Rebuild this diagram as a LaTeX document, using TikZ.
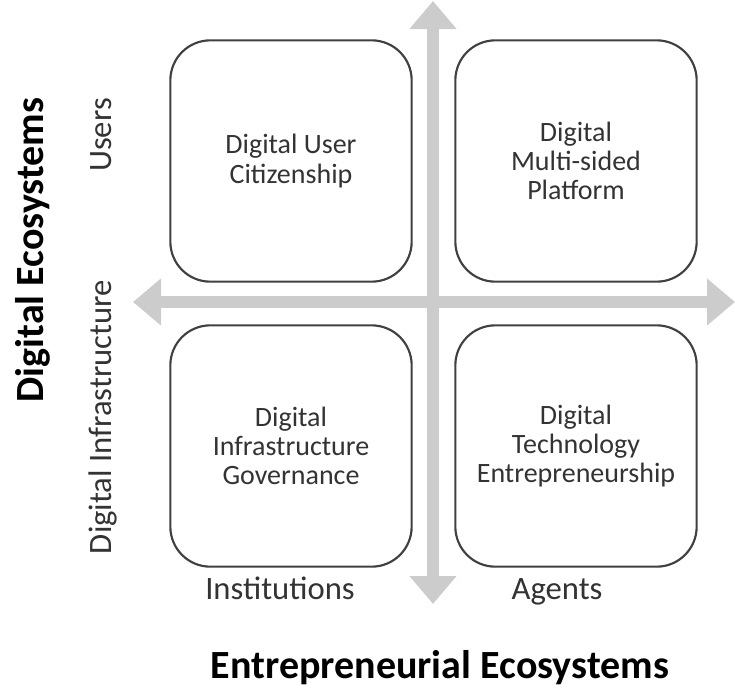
\documentclass[tikz,border=0pt]{standalone}
\usepackage{fontspec}
\setmainfont{Carlito}
\usetikzlibrary{arrows.meta}

\begin{document}
\begin{tikzpicture}[
    x=0.75pt, y=-0.75pt,
    quadrant/.style={draw=black!75, line width=1.6pt, rounded corners=30pt,
      minimum width=181pt, minimum height=181pt, align=center,
      text=black!80, font=\fontsize{21}{22}\selectfont},
    axis/.style={draw=black!20, line width=9pt,
      {Triangle[width=34pt,length=21pt]}-{Triangle[width=34pt,length=21pt]}},
    side/.style={text=black!80, anchor=base, font=\fontsize{24.5}{26}\selectfont},
    heading/.style={text=black, font=\bfseries\fontsize{30}{32}\selectfont}
  ]
    \useasboundingbox (0,0) rectangle (735,689);

    % Axes
    \coordinate (top) at (433,1);
    \coordinate (bottom) at (433,604);
    \coordinate (left) at (133,302);
    \coordinate (right) at (735,302);
    \draw[axis] (bottom) -- (top);
    \draw[axis] (left) -- (right);

    % Quadrants
    \node[quadrant] (user) at (291,161) {Digital User\\Citizenship};
    \node[quadrant] (platform) at (576,161) {Digital\\Multi-sided\\Platform};
    \node[quadrant] (governance) at (291,446) {Digital\\Infrastructure\\Governance};
    \node[quadrant] (entrepreneurship) at (576,446) {Digital\\Technology\\Entrepreneurship};

    % Axis labels
    \node[side, rotate=90] (users) at (111,135) {Users};
    \node[side, rotate=90] (infra) at (111,417) {Digital Infrastructure};
    \node[side] (institutions) at (280,599) {Institutions};
    \node[side] (agents) at (557,599) {Agents};

    \node[heading, rotate=90] (digital) at (33,250) {Digital Ecosystems};
    \node[heading] (entre) at (440,668) {Entrepreneurial Ecosystems};

  \end{tikzpicture}
\end{document}
